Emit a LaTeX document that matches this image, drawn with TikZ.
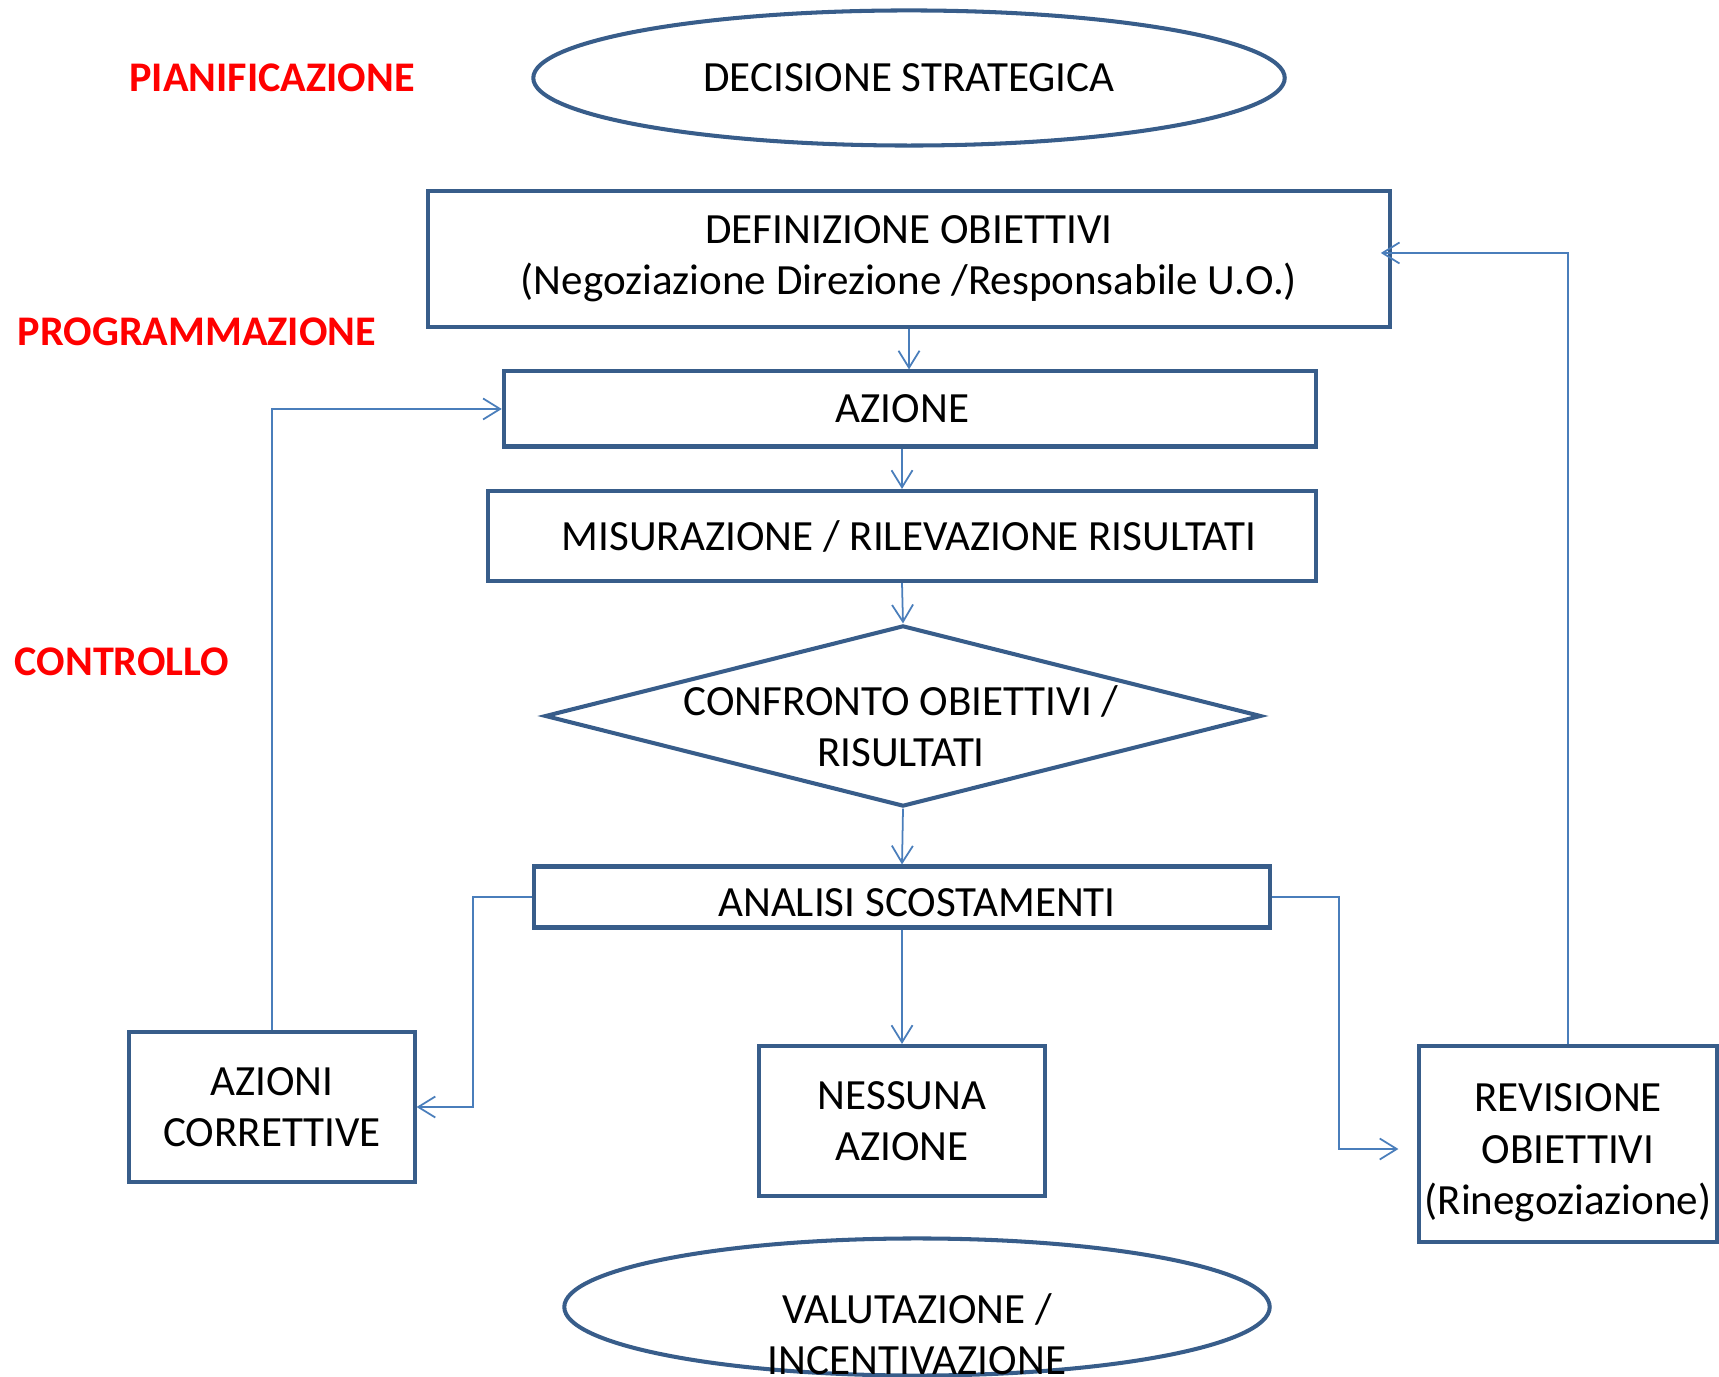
\documentclass[tikz,border=0pt]{standalone}
\usepackage{fontspec}
\setmainfont{Carlito}
\usepackage{xcolor}
\usepackage{tikz}
\usetikzlibrary{shapes.geometric,arrows.meta}
\definecolor{boxblue}{HTML}{385D8A}
\definecolor{linkblue}{HTML}{4A7EBB}

\begin{document}
\begin{tikzpicture}[x=0.01cm, y=-0.01cm,
    every node/.style={font=\fontsize{12.25}{14.6}\selectfont, align=center, inner sep=0pt},
    box/.style={draw=boxblue, line width=1.15pt, rectangle},
    oval/.style={draw=boxblue, line width=1.15pt, ellipse},
    phase/.style={text=red, font=\fontsize{12}{14.6}\selectfont\bfseries},
    conn/.style={draw=linkblue, line width=0.5pt, -{Straight Barb[length=1.7mm, width=2.1mm]}}]
    \useasboundingbox (0,0) rectangle (1719,1377);
    % fasi
    \node[phase] (pian) at (272,78) {PIANIFICAZIONE};
    \node[phase] (prog) at (197,332) {PROGRAMMAZIONE};
    \node[phase] (contr) at (122,662) {CONTROLLO};
    % flusso principale
    \node[oval, minimum width=7.51cm, minimum height=1.35cm] (dec) at (909,78) {DECISIONE STRATEGICA};
    \node[box, minimum width=9.61cm, minimum height=1.36cm] (def) at (909,259)
        {DEFINIZIONE OBIETTIVI\\(Negoziazione Direzione /Responsabile U.O.)};
    \node[box, minimum width=8.12cm, minimum height=0.75cm] (azione) at (910,409)
        {\hspace{-0.15cm}AZIONE};
    \node[box, minimum width=8.27cm, minimum height=0.90cm] (mis) at (902,536)
        {\hspace{0.14cm}MISURAZIONE / RILEVAZIONE RISULTATI};
    \node[draw=boxblue, line width=1.15pt, diamond, aspect=3.96,
        minimum width=7.16cm, minimum height=1.81cm] (conf) at (903,716) {};
    \node (conftxt) at (901,726) {CONFRONTO OBIETTIVI /\\RISULTATI};
    \node[box, minimum width=7.36cm, minimum height=0.61cm] (anal) at (902,897) {};
    \node (analtxt) at (917,903) {ANALISI SCOSTAMENTI};
    % esiti
    \node[box, minimum width=2.85cm, minimum height=1.50cm] (corr) at (272,1107) {AZIONI\\CORRETTIVE};
    \node[box, minimum width=2.85cm, minimum height=1.50cm] (nessuna) at (902,1121) {NESSUNA\\AZIONE};
    \node[box, minimum width=2.97cm, minimum height=1.95cm] (rev) at (1568,1144) {};
    \node (revtxt) at (1568,1153) {REVISIONE\\OBIETTIVI\\(Rinegoziazione)};
    \node[oval, minimum width=7.05cm, minimum height=1.37cm] (val) at (917,1307) {};
    \node (valtxt) at (917,1334) {VALUTAZIONE /\\INCENTIVAZIONE};
    % collegamenti
    \draw[conn] (def.south) -- (azione.north -| def.south);
    \draw[conn] (azione.south -| mis.north) -- (mis.north);
    \draw[conn] (mis.south) -- (conf.north);
    \draw[conn] (conf.south) -- (anal.north);
    \draw[conn] (anal.south) -- (nessuna.north);
    \draw[conn] (anal.west) -- ++(-59,0) |- (corr.east);
    \draw[conn] (anal.east) -- ++(67,0) |- ([xshift=-0.19cm, yshift=-0.05cm]rev.west);
    \draw[conn] (corr.north) |- (azione.west);
    \draw[conn] (rev.north) |- ([xshift=-0.11cm, yshift=0.06cm]def.east);
\end{tikzpicture}
\end{document}
